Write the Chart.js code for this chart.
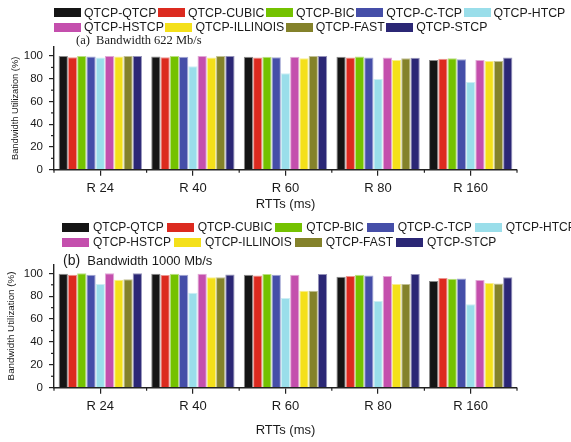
<!DOCTYPE html>
<html><head><meta charset="utf-8">
<script src="https://cdn.jsdelivr.net/npm/chart.js@4/dist/chart.umd.min.js"></script>
<style>
html,body{margin:0;padding:0;background:#fff;}
body{width:571px;height:442px;position:relative;overflow:hidden;font-family:"Liberation Sans",Arial,sans-serif;color:#1a1a1a;}
canvas{position:absolute;left:0;}
#c1{top:0;}
#c2{top:215px;}
.legend{position:absolute;z-index:2;}
.lrow{display:flex;align-items:center;white-space:nowrap;}
.item{display:flex;align-items:center;}
.sw{display:inline-block;width:27px;height:9px;box-sizing:border-box;}
.ptitle{position:absolute;z-index:2;white-space:pre;line-height:1;}
</style>
</head><body>
<canvas id="c1" width="571" height="215"></canvas>
<canvas id="c2" width="571" height="227"></canvas>
<div class="legend" id="leg1" style="left:54px;top:5.6px;font-size:12.3px;"></div>
<div class="legend" id="leg2" style="left:62px;top:219.5px;font-size:12px;"></div>
<div class="ptitle" style="left:76px;top:34px;font-family:'Liberation Serif','Times New Roman',serif;font-size:12.5px;">(a)  Bandwidth 622 Mb/s</div>
<div class="ptitle" style="left:63px;top:253px;font-size:13px;"><span style="font-size:14px">(b)</span>  Bandwidth 1000 Mb/s</div>
<script>
// ---- data ----
const categories = ['R 24', 'R 40', 'R 60', 'R 80', 'R 160'];
const seriesNames = ['QTCP-QTCP', 'QTCP-CUBIC', 'QTCP-BIC', 'QTCP-C-TCP', 'QTCP-HTCP',
                     'QTCP-HSTCP', 'QTCP-ILLINOIS', 'QTCP-FAST', 'QTCP-STCP'];
const yTickValues = [0, 20, 40, 60, 80, 100];
const xTitle = 'RTTs (ms)';
const yTitle = 'Bandwidth Utilization (%)';

// Panel (a): Bandwidth 622 Mb/s
const qtcp622     = [100,  99.7, 99.5, 99.4, 96.5];
const cubic622    = [99,   99,   98.8, 98.8, 97.6];
const bic622      = [100,  100,  99.5, 99.7, 98];
const ctcp622     = [99.7, 99.5, 99,   98.8, 97.2];
const htcp622     = [98.8, 91,   85,   79.8, 77.1];
const hstcp622    = [100,  100,  99.5, 98.8, 96.5];
const illinois622 = [99.7, 98.8, 98.2, 96.5, 95.6];
const fast622     = [100,  100,  100,  98,   95.6];
const stcp622     = [100,  100,  100,  98.5, 98.8];

// Panel (b): Bandwidth 1000 Mb/s
const qtcp1000     = [99.7, 99.7, 98.8, 97,   93.3];
const cubic1000    = [98.8, 98.5, 98.2, 97.6, 95.9];
const bic1000      = [100,  99.7, 99.4, 98.8, 95.3];
const ctcp1000     = [98.8, 98.8, 98.8, 98.2, 95.6];
const htcp1000     = [90.6, 83,   78.4, 75.8, 72.9];
const hstcp1000    = [100,  99.7, 98.8, 97.6, 94.2];
const illinois1000 = [94.4, 96.5, 84.8, 90.6, 91.5];
const fast1000     = [94.8, 96.5, 84.8, 90.6, 91.2];
const stcp1000     = [100,  99,   99.4, 99.4, 96.5];

// ---- styles ----
const colors = ['#151515', '#dc2a1f', '#74c200', '#454ea8', '#9adeea',
                '#c44fad', '#f4e01a', '#84822a', '#2b2775'];

function rgba(hex, a) {
  const n = parseInt(hex.slice(1), 16);
  return `rgba(${(n >> 16) & 255},${(n >> 8) & 255},${n & 255},${a})`;
}

function buildLegend(id, gap, swGap) {
  const el = document.getElementById(id);
  const rows = [seriesNames.slice(0, 5), seriesNames.slice(5)];
  let idx = 0;
  rows.forEach(r => {
    const row = document.createElement('div');
    row.className = 'lrow';
    row.style.height = id === 'leg1' ? '14.4px' : '15px';
    r.forEach((name, k) => {
      const it = document.createElement('div');
      it.className = 'item';
      if (k > 0) it.style.marginLeft = gap + 'px';
      const sw = document.createElement('span');
      sw.className = 'sw';
      sw.style.background = colors[idx];
      sw.style.border = '1px solid ' + rgba(colors[idx], 0.55);
      sw.style.marginRight = swGap + 'px';
      const tx = document.createElement('span');
      tx.textContent = name;
      it.appendChild(sw); it.appendChild(tx);
      row.appendChild(it);
      idx++;
    });
    el.appendChild(row);
  });
}
buildLegend('leg1', 1.5, 3);
buildLegend('leg2', 3, 4);

const minorTicks = {
  id: 'minorTicks',
  afterDraw(chart) {
    const {ctx, chartArea, scales} = chart;
    ctx.save();
    ctx.strokeStyle = '#222';
    ctx.lineWidth = 1.2;
    [10, 30, 50, 70, 90].forEach(v => {
      const y = scales.y.getPixelForValue(v);
      ctx.beginPath();
      ctx.moveTo(chartArea.left - 3, y);
      ctx.lineTo(chartArea.left, y);
      ctx.stroke();
    });
    for (let i = 0; i <= categories.length; i++) {
      const x = scales.x.getPixelForValue(i - 0.5);
      ctx.beginPath();
      ctx.moveTo(x, chartArea.bottom);
      ctx.lineTo(x, chartArea.bottom + 3);
      ctx.stroke();
    }
    ctx.restore();
  }
};

function makeChart(id, seriesData, cfg) {
  const datasets = seriesData.map((d, i) => ({
    label: seriesNames[i],
    data: d,
    backgroundColor: colors[i],
    borderColor: rgba(colors[i], 0.5),
    borderWidth: 1,
    categoryPercentage: 0.9,
    barPercentage: 1.0
  }));
  return new Chart(document.getElementById(id), {
    type: 'bar',
    data: { labels: categories, datasets },
    plugins: [minorTicks],
    options: {
      responsive: false,
      animation: false,
      devicePixelRatio: 1,
      layout: { padding: { top: cfg.padTop, right: 54, left: 0, bottom: 0 } },
      plugins: { legend: { display: false }, tooltip: { enabled: false }, title: { display: false } },
      scales: {
        x: {
          afterFit(s) { s.height = cfg.xH; },
          grid: { display: true, drawOnChartArea: false, drawTicks: true, tickLength: 6,
                  offset: false, color: '#222', lineWidth: 1.2 },
          border: { display: true, color: '#222', width: 1.4 },
          ticks: { padding: 5, color: '#1a1a1a',
                   font: { family: 'Liberation Sans', size: 13 } },
          title: { display: true, text: xTitle, color: '#1a1a1a',
                   font: { family: 'Liberation Sans', size: 13 },
                   padding: { top: 0, bottom: cfg.xTitlePad } }
        },
        y: {
          min: 0, max: 108,
          afterFit(s) { s.width = 54; },
          afterBuildTicks(s) { s.ticks = yTickValues.map(v => ({ value: v })); },
          grid: { display: true, drawOnChartArea: false, drawTicks: true, tickLength: 5,
                  color: '#222', lineWidth: 1.2 },
          border: { display: true, color: '#222', width: 1.4 },
          ticks: { padding: 6, color: '#1a1a1a', includeBounds: false,
                   font: { family: 'Liberation Sans', size: 11.5 } },
          title: { display: true, text: yTitle, color: '#1a1a1a',
                   font: { family: 'Liberation Sans', size: cfg.yTitleSize },
                   padding: { top: cfg.yTitlePad, bottom: 0 } }
        }
      }
    }
  });
}

makeChart('c1',
  [qtcp622, cubic622, bic622, ctcp622, htcp622, hstcp622, illinois622, fast622, stcp622],
  { padTop: 47, xH: 45.3, xTitlePad: 3.2, yTitleSize: 9.3, yTitlePad: 10 });
makeChart('c2',
  [qtcp1000, cubic1000, bic1000, ctcp1000, htcp1000, hstcp1000, illinois1000, fast1000, stcp1000],
  { padTop: 49.2, xH: 54.3, xTitlePad: 4.2, yTitleSize: 9.8, yTitlePad: 5.3 });
</script>
</body></html>
